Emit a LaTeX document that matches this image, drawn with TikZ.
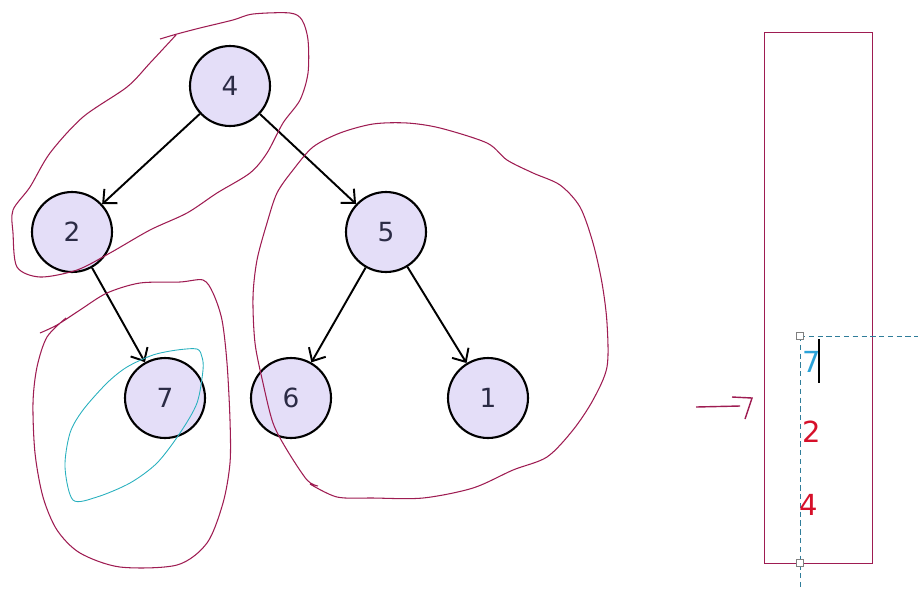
\documentclass[tikz,border=0pt]{standalone}
\usepackage{fontspec}
\setmainfont{DejaVu Sans}
\usepackage{xcolor}
\usetikzlibrary{arrows.meta}

\definecolor{nodefill}{RGB}{228,222,248}
\definecolor{nodetext}{RGB}{43,43,69}
\definecolor{inkred}{RGB}{158,28,82}
\definecolor{inkcyan}{RGB}{40,176,190}
\definecolor{guide}{RGB}{47,125,154}
\definecolor{stackred}{RGB}{214,16,42}
\definecolor{stackcyan}{RGB}{43,163,217}

\begin{document}
\begin{tikzpicture}[
    x=0.02cm, y=-0.02cm,
    treenode/.style={circle, draw=black, fill=nodefill, line width=1.2pt, minimum size=1.6cm, inner sep=0pt, font=\fontsize{15}{18}\selectfont, text=nodetext},
    arrow/.style={line width=1.1pt, -{Straight Barb[length=6pt, width=11pt]}},
    ink/.style={draw=inkred, line width=0.6pt},
    stackitem/.style={font=\fontsize{16.5}{20}\selectfont, inner sep=0pt}
]
    \useasboundingbox (0,0) rectangle (918,589);

    % Tree
    \node (n4) [treenode] at (230,86) {4};
    \node (n2) [treenode] at (72,232) {2};
    \node (n5) [treenode] at (386,232) {5};
    \node (n7) [treenode] at (165,398) {7};
    \node (n6) [treenode] at (291,398) {6};
    \node (n1) [treenode] at (488,398) {1};

    % Edges
    \draw [arrow] (n4) -- (n2);
    \draw [arrow] (n4) -- (n5);
    \draw [arrow] (n2) -- (n7);
    \draw [arrow] (n5) -- (n6);
    \draw [arrow] (n5) -- (n1);

    % Hand-drawn loops
    \draw [ink] plot [smooth, tension=0.5] coordinates {(160,39) (177,34) (200,28) (233,20) (253,14) (290,13) (302,20) (308,40) (308,73) (300,100) (283,123) (267,153) (250,173) (217,193) (187,213) (150,230) (110,253) (77,270) (40,277) (17,267) (13,233) (13,210) (30,187) (50,153) (83,117) (127,87) (150,63) (176,35)};
    \draw [ink] plot [smooth, tension=0.5] coordinates {(40,333) (57,325) (80,310) (107,293) (140,283) (180,282) (203,280) (213,293) (222,320) (227,363) (230,420) (230,463) (223,503) (207,543) (177,565) (120,567) (80,553) (57,530) (43,497) (35,453) (33,403) (37,367) (47,337) (66,318)};
    \draw [ink] plot [smooth, tension=0.5] coordinates {(310,484) (337,497) (373,498) (423,498) (473,488) (513,470) (547,457) (573,430) (593,400) (607,367) (607,323) (602,283) (593,243) (580,207) (560,185) (533,173) (507,160) (487,143) (440,128) (407,123) (373,124) (340,133) (313,147) (293,170) (277,193) (267,223) (257,260) (253,297) (255,343) (263,383) (273,423) (287,450) (307,480) (318,486)};
    \draw [draw=inkcyan, line width=0.5pt] plot [smooth cycle, tension=0.5] coordinates {(197,349) (177,350) (153,355) (127,367) (107,383) (83,410) (70,433) (65,467) (73,500) (97,497) (130,483) (157,463) (180,433) (197,403) (203,370) (202,357)};

    % Hand-drawn arrow
    \draw [ink, line width=0.8pt] (696,407) -- (740,406);
    \draw [ink, line width=0.8pt] (732,397) -- (752,398) -- (748,410) -- (745,419);

    % Stack
    \node (stack) [draw=inkred, line width=0.8pt, minimum width=2.16cm, minimum height=10.62cm, inner sep=0pt, anchor=north west] at (764,32) {};
    \coordinate (gtop) at (800,336);
    \coordinate (gbot) at (800,563);
    \draw [guide, line width=0.5pt, dash pattern=on 3pt off 2pt] (gtop) -- (800,589);
    \draw [guide, line width=0.5pt, dash pattern=on 3pt off 2pt] (gtop) -- (918,336);
    \node (h1) [draw=gray, fill=white, line width=0.4pt, minimum size=4pt, inner sep=0pt] at (gtop) {};
    \node (h2) [draw=gray, fill=white, line width=0.4pt, minimum size=4pt, inner sep=0pt] at (gbot) {};
    \node (s7) [stackitem, text=stackcyan] at (812,362) {7};
    \node (s2) [stackitem, text=stackred] at (812,432) {2};
    \node (s4) [stackitem, text=stackred] at (809,505) {4};
    \draw [line width=0.6pt] (819,339) -- (819,383);

\end{tikzpicture}
\end{document}
